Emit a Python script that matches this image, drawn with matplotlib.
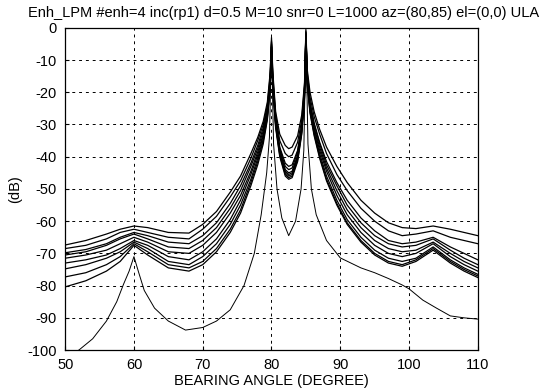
import matplotlib
matplotlib.use("Agg")
import matplotlib.pyplot as plt

plt.rcParams['font.family'] = ['Liberation Sans', 'DejaVu Sans']
plt.rcParams['axes.unicode_minus'] = False

# bearing angles (deg) where the curves were read
angles = [50, 53, 56, 58, 60, 62, 65, 68, 70, 72, 74, 75.5, 77, 78, 78.8, 79.4, 79.8, 80, 80.2, 80.6, 81.2,
          82, 82.5, 83, 83.8, 84.4, 84.8, 85, 85.2, 85.6, 86.2, 87, 88, 89.5, 91, 93, 95, 97, 99, 101,
          103.5, 106, 108, 110]

# spectra of the trials (dB), top to bottom at 50 deg
trial1 = [-67.4, -66.0, -64.0, -62.5, -61.5, -62.0, -63.5, -63.7, -61.0, -57.0, -51.0, -46.0, -39.0, -34.0,
          -29.0, -23.0, -14.0, -3.0, -14.0, -26.0, -33.0, -36.5, -37.5, -37.0, -33.5, -27.0, -17.0, -0.5,
          -13.0, -20.0, -26.0, -31.5, -37.0, -43.0, -48.0, -53.5, -57.5, -60.5, -62.0, -62.3, -61.5, -62.5,
          -63.5, -64.5]
trial2 = [-68.5, -67.5, -65.5, -63.5, -62.5, -63.5, -65.0, -65.5, -62.5, -58.5, -52.5, -47.5, -40.5, -35.0,
          -30.0, -24.0, -15.0, -4.0, -15.0, -27.0, -35.0, -39.0, -40.0, -39.5, -35.5, -28.5, -18.0, -1.5,
          -14.0, -21.5, -27.5, -33.0, -39.0, -45.5, -50.5, -56.0, -60.0, -63.0, -64.5, -64.0, -63.0, -65.0,
          -66.0, -67.0]
trial3 = [-69.8, -68.8, -67.0, -65.0, -63.5, -64.5, -66.5, -67.0, -64.5, -60.5, -54.5, -49.0, -42.0, -36.5,
          -31.0, -25.0, -16.0, -5.0, -16.0, -28.0, -37.0, -42.0, -43.0, -42.5, -38.0, -30.0, -19.0, -2.0,
          -15.0, -23.0, -29.5, -35.5, -41.5, -48.0, -53.5, -59.0, -63.0, -66.0, -67.0, -66.5, -65.0, -68.0,
          -70.0, -72.0]
trial4 = [-70.5, -69.5, -67.5, -65.5, -64.0, -65.5, -68.0, -68.5, -66.0, -62.0, -56.0, -50.5, -43.0, -37.5,
          -32.0, -25.5, -16.5, -4.5, -16.5, -28.5, -37.5, -43.0, -44.0, -43.5, -38.5, -30.5, -19.5, -1.0,
          -15.5, -23.5, -30.0, -36.0, -42.5, -49.0, -55.0, -60.5, -64.5, -67.0, -68.0, -67.5, -65.5, -69.0,
          -71.5, -73.5]
trial5 = [-71.5, -70.5, -69.0, -67.0, -65.0, -66.5, -69.5, -70.0, -67.5, -63.5, -57.5, -52.0, -44.5, -38.5,
          -33.0, -26.5, -17.0, -6.0, -17.0, -29.0, -38.0, -44.0, -45.0, -44.5, -39.5, -31.0, -20.0, -2.5,
          -16.0, -24.5, -31.0, -37.0, -43.5, -50.5, -56.5, -62.0, -66.0, -68.5, -69.5, -69.0, -66.5, -70.0,
          -72.5, -74.5]
trial6 = [-73.0, -72.0, -70.5, -68.5, -66.0, -67.5, -71.0, -72.0, -69.5, -65.5, -59.5, -53.5, -45.5, -39.5,
          -33.5, -27.0, -17.5, -5.5, -17.5, -29.5, -38.5, -44.5, -45.5, -45.0, -40.0, -31.5, -20.5, -1.5,
          -16.5, -25.0, -31.5, -38.0, -44.5, -52.0, -58.0, -63.5, -67.5, -70.0, -71.0, -70.0, -67.0, -71.0,
          -73.5, -75.5]
trial7 = [-74.8, -73.5, -71.5, -69.5, -66.5, -68.5, -72.5, -73.5, -71.0, -67.0, -61.0, -55.0, -47.0, -40.5,
          -34.5, -27.5, -18.0, -7.0, -18.0, -30.0, -39.0, -45.0, -46.0, -45.5, -40.5, -32.0, -21.0, -3.0,
          -17.0, -25.5, -32.5, -39.0, -46.0, -53.5, -59.5, -65.0, -69.0, -71.5, -72.5, -71.5, -68.0, -72.0,
          -74.5, -76.5]
trial8 = [-77.3, -76.0, -73.5, -71.0, -67.0, -69.5, -73.5, -74.5, -72.5, -68.5, -62.5, -56.5, -48.0, -41.5,
          -35.0, -28.0, -18.5, -6.0, -18.5, -30.5, -39.5, -45.5, -46.5, -46.0, -41.0, -32.5, -21.5, -2.0,
          -17.5, -26.0, -33.0, -40.0, -47.0, -54.5, -60.5, -66.0, -70.0, -72.5, -73.5, -72.0, -68.5, -72.5,
          -75.0, -77.0]
trial9 = [-80.4, -78.5, -75.5, -72.5, -67.5, -70.5, -74.5, -75.5, -73.5, -69.5, -63.5, -57.5, -49.0, -42.5,
          -36.0, -28.5, -19.0, -7.5, -19.0, -31.0, -40.0, -46.0, -47.0, -46.5, -41.5, -33.0, -22.0, -3.5,
          -18.0, -26.5, -33.5, -40.5, -47.5, -55.0, -61.0, -66.5, -70.5, -73.0, -74.0, -72.5, -69.0, -73.0,
          -75.5, -77.5]
trials = [trial1, trial2, trial3, trial4, trial5, trial6, trial7, trial8, trial9]

# the one trial with the deep notch between the sources
low_angles = [50, 52, 54, 56, 57.5, 58.5, 59.3, 60, 60.7, 61.5, 63, 65, 67.5, 70, 72, 74, 76, 77.5,
              78.5, 79.3, 79.7, 80, 80.3, 80.8, 81.5, 82.5, 83.5, 84.3, 84.7, 85, 85.3, 85.8, 86.5,
              88, 90, 93, 95, 97, 99, 100, 102, 104, 106, 108, 110]
low_db = [-102.0, -100.0, -96.5, -91.0, -85.0, -79.5, -75.5, -71.0, -76.0, -81.5, -87.0, -91.0, -93.8, -93.0, -91.0,
          -87.5, -80.0, -70.0, -58.0, -45.0, -34.0, -5.0, -36.0, -50.0, -59.0, -64.5, -60.0, -50.0, -38.0,
          -2.0, -36.0, -50.0, -58.0, -66.0, -71.4, -74.5, -76.0, -77.8, -79.8, -81.0, -84.5, -87.0, -89.4, -90.0, -90.4]

fig = plt.figure(figsize=(5.43, 3.92), dpi=100)
ax = fig.add_axes([0.12, 0.107, 0.76, 0.822])

for db in trials:
    ax.plot(angles, db, color='black', linewidth=0.9)
ax.plot(low_angles, low_db, color='black', linewidth=0.7)

ax.set_xlim(50, 110)
ax.set_ylim(-100, 0)
ax.set_xticks(range(50, 111, 10))
ax.set_yticks(range(-100, 1, 10))
ax.grid(True, color='black', linestyle=(0, (3, 4)), linewidth=0.7)
ax.tick_params(direction='in', length=3, labelsize=10.5, color='black', pad=6)
for s in ax.spines.values():
    s.set_linewidth(0.9)

fig.text(0.523, 0.967, 'Enh_LPM #enh=4 inc(rp1) d=0.5 M=10 snr=0 L=1000 az=(80,85) el=(0,0) ULA',
         fontsize=10.5, ha='center', va='center')
ax.set_xlabel('BEARING ANGLE (DEGREE)', fontsize=10.5, labelpad=1)
ax.set_ylabel('(dB)', fontsize=10.5, labelpad=4)

fig.savefig('out.png', dpi=100)
